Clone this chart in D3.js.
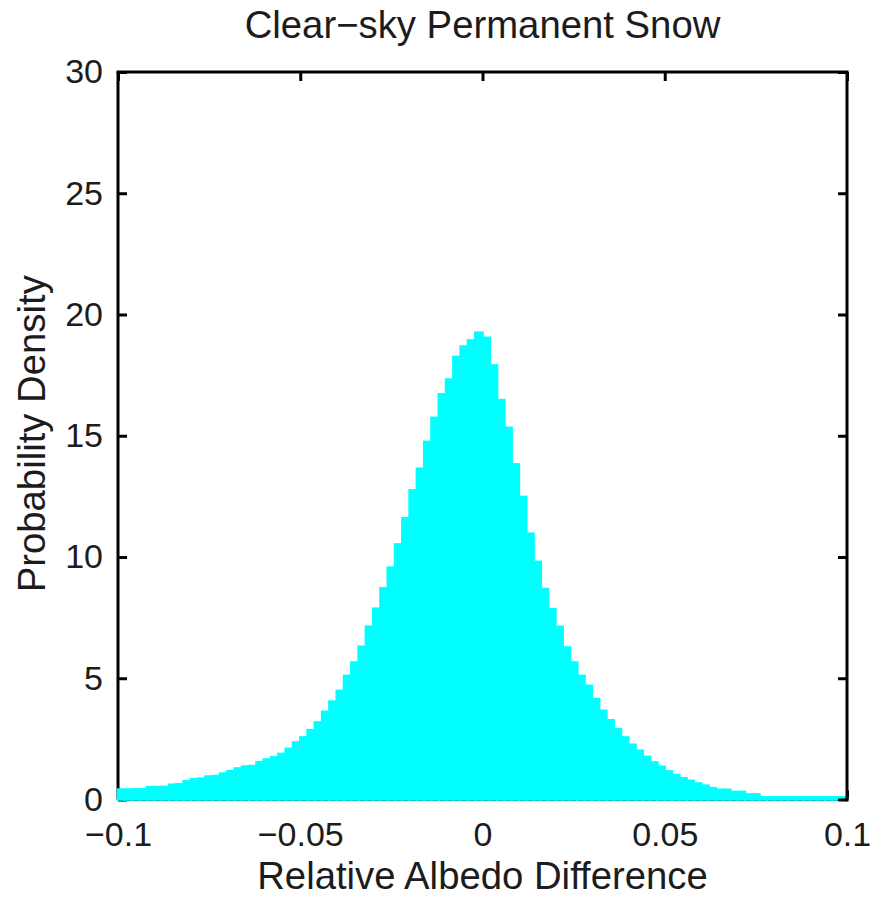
<!DOCTYPE html>
<html>
<head>
<meta charset="utf-8">
<script src="https://cdn.jsdelivr.net/npm/d3@7/dist/d3.min.js"></script>
<style>
  html, body { margin: 0; padding: 0; background: #fff; }
  svg { display: block; }
  text { font-family: "Liberation Sans", Arial, Helvetica, sans-serif; fill: #1c1c1c; }
</style>
</head>
<body>
<svg id="chart" width="871" height="898"></svg>
<script>
// Histogram of relative albedo difference, 100 bins of width 0.002 on [-0.1, 0.1]
const binStart = -0.1;
const binWidth = 0.002;
const density = [
  0.41, 0.41, 0.42, 0.42, 0.51, 0.51, 0.52, 0.61, 0.63, 0.75,
  0.84, 0.86, 0.95, 0.97, 1.07, 1.17, 1.28, 1.36, 1.38, 1.54,
  1.65, 1.74, 1.88, 2.09, 2.35, 2.56, 2.86, 3.18, 3.62, 4.04,
  4.48, 5.10, 5.65, 6.30, 7.13, 7.87, 8.71, 9.56, 10.52, 11.60,
  12.75, 13.64, 14.75, 15.74, 16.71, 17.32, 18.25, 18.68, 18.93, 19.25,
  19.04, 17.90, 16.47, 15.33, 13.82, 12.48, 10.96, 9.80, 8.68, 7.85,
  7.12, 6.27, 5.65, 5.10, 4.69, 4.14, 3.66, 3.27, 2.90, 2.56,
  2.26, 2.01, 1.76, 1.53, 1.35, 1.16, 1.01, 0.88, 0.77, 0.66,
  0.57, 0.47, 0.40, 0.40, 0.31, 0.31, 0.21, 0.21, 0.09, 0.09,
  0.09, 0.09, 0.09, 0.09, 0.09, 0.09, 0.09, 0.09, 0.09, 0.09
];
const xTicks = [-0.1, -0.05, 0, 0.05, 0.1];
const xTickLabels = ["\u22120.1", "\u22120.05", "0", "0.05", "0.1"];
const yTicks = [0, 5, 10, 15, 20, 25, 30];
const yTickLabels = ["0", "5", "10", "15", "20", "25", "30"];
const titleText = "Clear\u2212sky Permanent Snow";
const xLabelText = "Relative Albedo Difference";
const yLabelText = "Probability Density";

const svg = d3.select("#chart");
const plot = { left: 118, right: 847, top: 72, bottom: 799.5 };

const x = d3.scaleLinear().domain([-0.1, 0.1]).range([plot.left, plot.right]);
const y = d3.scaleLinear().domain([0, 30]).range([plot.bottom, plot.top]);

const axisColor = "#000";
const textColor = "#1c1c1c";
const lineW = 3;
const tickLen = 9;
const tickFont = 34;
const labelFont = 38.3;

// Underlying frame edges (left & bottom), bars are painted over them
const under = svg.append("g");
under.append("line")
  .attr("x1", plot.left).attr("x2", plot.left)
  .attr("y1", plot.top).attr("y2", plot.bottom)
  .attr("stroke", axisColor).attr("stroke-width", lineW);
under.append("line")
  .attr("x1", plot.left).attr("x2", plot.right)
  .attr("y1", plot.bottom).attr("y2", plot.bottom)
  .attr("stroke", axisColor).attr("stroke-width", lineW);

// Left axis with inward ticks
const leftAxis = svg.append("g")
  .attr("transform", `translate(${plot.left},0)`)
  .call(d3.axisLeft(y).tickValues(yTicks)
    .tickFormat((d, i) => yTickLabels[i])
    .tickSizeInner(-tickLen).tickSizeOuter(0).tickPadding(15));
leftAxis.select(".domain").remove();
leftAxis.selectAll(".tick line").attr("stroke", axisColor).attr("stroke-width", lineW);
leftAxis.selectAll(".tick text").attr("font-size", tickFont).attr("fill", textColor)
  .attr("font-family", "Liberation Sans, Arial, sans-serif");

// Bottom axis with inward ticks
const bottomAxis = svg.append("g")
  .attr("transform", `translate(0,${plot.bottom})`)
  .call(d3.axisBottom(x).tickValues(xTicks)
    .tickFormat((d, i) => xTickLabels[i])
    .tickSizeInner(-tickLen).tickSizeOuter(0).tickPadding(22));
bottomAxis.select(".domain").remove();
bottomAxis.selectAll(".tick line").attr("stroke", axisColor).attr("stroke-width", lineW);
bottomAxis.selectAll(".tick text").attr("font-size", tickFont).attr("fill", textColor)
  .attr("font-family", "Liberation Sans, Arial, sans-serif");

// Histogram bars
svg.append("g").selectAll("rect")
  .data(density)
  .join("rect")
  .attr("x", (d, i) => x(binStart + i * binWidth))
  .attr("width", (d, i) => x(binStart + (i + 1) * binWidth) - x(binStart + i * binWidth))
  .attr("y", d => y(d))
  .attr("height", d => y(0) - y(d))
  .attr("fill", "#00ffff")
  .attr("stroke", "#00ffff")
  .attr("stroke-width", 2.5);

// Top & right frame edges and their inward ticks, drawn above the bars
const over = svg.append("g");
over.append("line")
  .attr("x1", plot.left - lineW / 2).attr("x2", plot.right + lineW / 2)
  .attr("y1", plot.top).attr("y2", plot.top)
  .attr("stroke", axisColor).attr("stroke-width", lineW);
over.append("line")
  .attr("x1", plot.right).attr("x2", plot.right)
  .attr("y1", plot.top).attr("y2", plot.bottom + 2)
  .attr("stroke", axisColor).attr("stroke-width", lineW);

const topAxis = svg.append("g")
  .attr("transform", `translate(0,${plot.top})`)
  .call(d3.axisTop(x).tickValues(xTicks).tickFormat("")
    .tickSizeInner(-tickLen).tickSizeOuter(0));
topAxis.select(".domain").remove();
topAxis.selectAll(".tick line").attr("stroke", axisColor).attr("stroke-width", lineW);

const rightAxis = svg.append("g")
  .attr("transform", `translate(${plot.right},0)`)
  .call(d3.axisRight(y).tickValues(yTicks).tickFormat("")
    .tickSizeInner(-tickLen).tickSizeOuter(0));
rightAxis.select(".domain").remove();
rightAxis.selectAll(".tick line").attr("stroke", axisColor).attr("stroke-width", lineW);

// Title and axis labels
const midX = (plot.left + plot.right) / 2;
svg.append("text")
  .attr("x", midX).attr("y", 38)
  .attr("text-anchor", "middle")
  .attr("font-size", labelFont)
  .text(titleText);

svg.append("text")
  .attr("x", midX).attr("y", 889)
  .attr("text-anchor", "middle")
  .attr("font-size", labelFont)
  .text(xLabelText);

svg.append("text")
  .attr("transform", `translate(45,${(plot.top + plot.bottom) / 2 - 2}) rotate(-90)`)
  .attr("text-anchor", "middle")
  .attr("font-size", labelFont)
  .text(yLabelText);
</script>
</body>
</html>
